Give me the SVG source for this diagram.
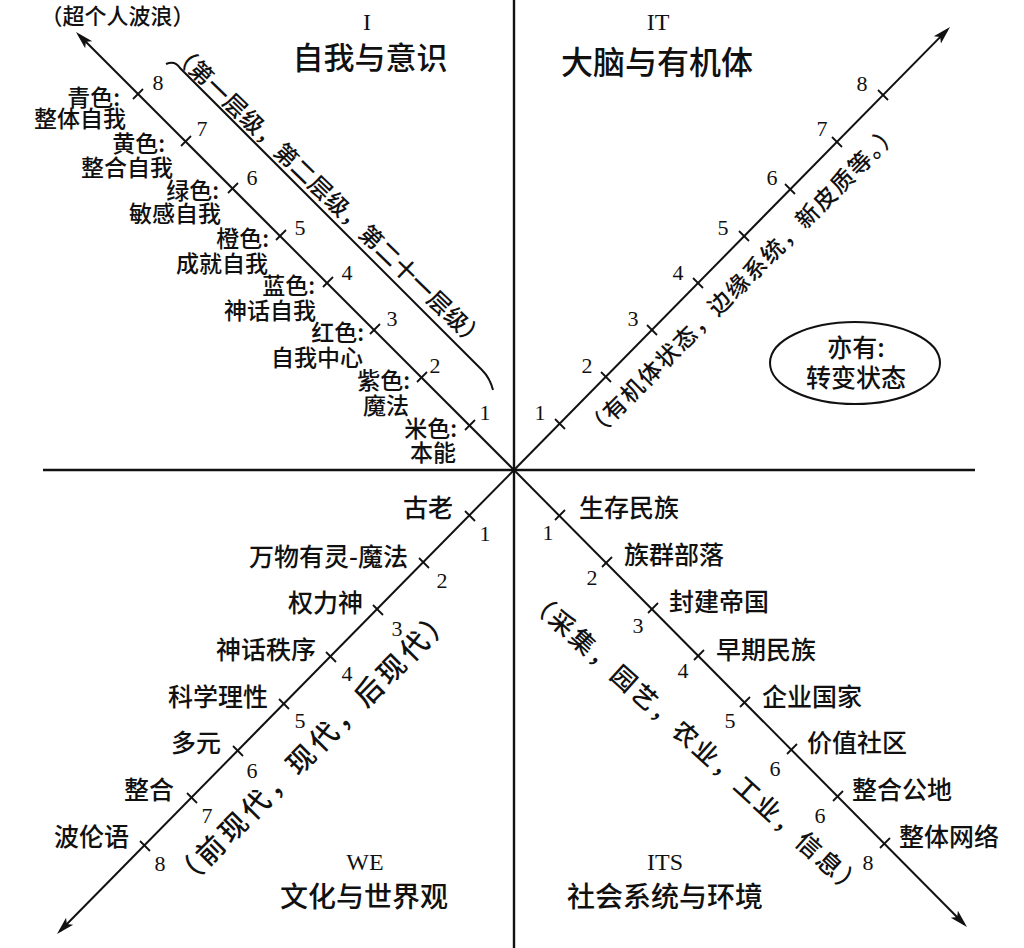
<svg xmlns="http://www.w3.org/2000/svg" width="1024" height="948" viewBox="0 0 1024 948">
<style>
.cjk{font-family:"Noto Sans CJK SC","Noto Sans",sans-serif;fill:#111;font-weight:500}
.lbl{font-size:23px}
.lb2{font-size:25px}
.num{font-family:"Liberation Serif",serif;font-size:22px;fill:#111;text-anchor:middle}
.rom{font-family:"Liberation Serif",serif;font-size:24px;fill:#111;text-anchor:middle}
.ttl{text-anchor:middle}
.end{text-anchor:end}
.axis{stroke:#111;stroke-width:2;fill:none}
.main{stroke:#111;stroke-width:2.4;fill:none}
.tick{stroke:#111;stroke-width:1.8}
.rot{dominant-baseline:central;text-anchor:middle}
</style>
<defs>
<marker id="arr" viewBox="0 0 18 12" refX="14" refY="6" markerWidth="18" markerHeight="12" markerUnits="userSpaceOnUse" orient="auto">
<path d="M0,1 L18,6 L0,11 L4,6 Z" fill="#111"/>
</marker>
</defs>
<rect width="1024" height="948" fill="#fff"/>

<g id="connectors">
<line class="main" x1="514" y1="0" x2="514" y2="948"/>
<line class="main" x1="43" y1="470" x2="975" y2="470"/>
<line class="axis" x1="514" y1="470" x2="78.8" y2="34.8" marker-end="url(#arr)"/>
<line class="axis" x1="514" y1="470" x2="947.2" y2="29.9" marker-end="url(#arr)"/>
<line class="axis" x1="514" y1="470" x2="59.8" y2="931.2" marker-end="url(#arr)"/>
<line class="axis" x1="514" y1="470" x2="964.2" y2="924.2" marker-end="url(#arr)"/>
<path class="axis" d="M166,64 Q175,60 180,68 L482,370 Q490,378 493,390"/>
</g>

<g id="ticks">
<g id="ticks-ul">
<line class="tick" x1="465" y1="430" x2="475" y2="420"/>
<line class="tick" x1="417" y1="382" x2="427" y2="372"/>
<line class="tick" x1="370" y1="334" x2="380" y2="324"/>
<line class="tick" x1="323" y1="287" x2="333" y2="277"/>
<line class="tick" x1="276" y1="240" x2="286" y2="230"/>
<line class="tick" x1="228" y1="193" x2="238" y2="183"/>
<line class="tick" x1="181" y1="146" x2="191" y2="136"/>
<line class="tick" x1="133" y1="99" x2="143" y2="89"/>
</g>
<g id="ticks-ur">
<line class="tick" x1="555" y1="419" x2="565" y2="429"/>
<line class="tick" x1="601" y1="372" x2="611" y2="382"/>
<line class="tick" x1="647" y1="325" x2="657" y2="335"/>
<line class="tick" x1="693" y1="278" x2="703" y2="288"/>
<line class="tick" x1="739" y1="231" x2="749" y2="241"/>
<line class="tick" x1="785" y1="184" x2="795" y2="194"/>
<line class="tick" x1="832" y1="137" x2="842" y2="147"/>
<line class="tick" x1="878" y1="90" x2="888" y2="100"/>
</g>
<g id="ticks-ll">
<line class="tick" x1="465" y1="511" x2="475" y2="521"/>
<line class="tick" x1="419" y1="558" x2="429" y2="568"/>
<line class="tick" x1="373" y1="605" x2="383" y2="615"/>
<line class="tick" x1="326" y1="652" x2="336" y2="662"/>
<line class="tick" x1="279" y1="699" x2="289" y2="709"/>
<line class="tick" x1="233" y1="746" x2="243" y2="756"/>
<line class="tick" x1="187" y1="793" x2="197" y2="803"/>
<line class="tick" x1="140" y1="841" x2="150" y2="851"/>
</g>
<g id="ticks-lr">
<line class="tick" x1="555" y1="520" x2="565" y2="510"/>
<line class="tick" x1="602" y1="567" x2="612" y2="557"/>
<line class="tick" x1="648" y1="613" x2="658" y2="603"/>
<line class="tick" x1="694" y1="660" x2="704" y2="650"/>
<line class="tick" x1="740" y1="707" x2="750" y2="697"/>
<line class="tick" x1="787" y1="754" x2="797" y2="744"/>
<line class="tick" x1="833" y1="801" x2="843" y2="791"/>
<line class="tick" x1="880" y1="848" x2="890" y2="838"/>
</g>
</g>

<g id="quadrant-I">
<text class="rom" x="367" y="30">I</text>
<text class="cjk ttl" x="370" y="68.5" font-size="31">自我与意识</text>
<text class="cjk ttl" x="117.5" y="24" font-size="22">（超个人波浪）</text>
<g id="ul-numbers">
<text class="num" x="158" y="89.5">8</text>
<text class="num" x="202" y="135.5">7</text>
<text class="num" x="252" y="184.5">6</text>
<text class="num" x="300" y="234.5">5</text>
<text class="num" x="347" y="279.5">4</text>
<text class="num" x="392" y="325.5">3</text>
<text class="num" x="435" y="372.5">2</text>
<text class="num" x="485" y="419.5">1</text>
</g>
<g id="ul-labels" class="cjk lbl end">
<text x="120" y="105.5">青色:</text>
<text x="126" y="127">整体自我</text>
<text x="165" y="151.5">黄色:</text>
<text x="173" y="176">整合自我</text>
<text x="219" y="198.5">绿色:</text>
<text x="221" y="222">敏感自我</text>
<text x="269" y="246.5">橙色:</text>
<text x="268" y="272">成就自我</text>
<text x="315" y="293.5">蓝色:</text>
<text x="316" y="319">神话自我</text>
<text x="364" y="340.5">红色:</text>
<text x="363" y="366">自我中心</text>
<text x="410" y="388.5">紫色:</text>
<text x="409" y="414">魔法</text>
<text x="457" y="436.5">米色:</text>
<text x="456" y="461">本能</text>
</g>
<text class="cjk rot" font-size="23" transform="translate(330,195) rotate(44)" textLength="425" lengthAdjust="spacing">（第一层级，第二层级，第二十一层级）</text>
</g>

<g id="quadrant-IT">
<text class="rom" x="658" y="30">IT</text>
<text class="cjk ttl" x="657" y="74" font-size="32">大脑与有机体</text>
<g id="ur-numbers">
<text class="num" x="862" y="90.5">8</text>
<text class="num" x="822" y="135.5">7</text>
<text class="num" x="772" y="184.5">6</text>
<text class="num" x="723" y="234.5">5</text>
<text class="num" x="678" y="279.5">4</text>
<text class="num" x="633" y="325.5">3</text>
<text class="num" x="587" y="372.5">2</text>
<text class="num" x="540" y="419.5">1</text>
</g>
<text class="cjk rot" font-size="23" transform="translate(741,280) rotate(-45)" textLength="432" lengthAdjust="spacing">（有机体状态，边缘系统，新皮质等。）</text>
<g id="state-ellipse">
<ellipse cx="855" cy="363" rx="85" ry="41" fill="none" stroke="#111" stroke-width="2"/>
<text class="cjk ttl" x="856" y="357" font-size="25">亦有:</text>
<text class="cjk ttl" x="856" y="387" font-size="25">转变状态</text>
</g>
</g>

<g id="quadrant-WE">
<text class="rom" x="365" y="870">WE</text>
<text class="cjk ttl" x="364" y="907" font-size="28">文化与世界观</text>
<g id="ll-numbers">
<text class="num" x="485" y="540.5">1</text>
<text class="num" x="442" y="587.5">2</text>
<text class="num" x="397" y="635.5">3</text>
<text class="num" x="347" y="680.5">4</text>
<text class="num" x="300" y="727.5">5</text>
<text class="num" x="252" y="777.5">6</text>
<text class="num" x="207" y="822.5">7</text>
<text class="num" x="160" y="870.5">8</text>
</g>
<g id="ll-labels" class="cjk lb2 end">
<text x="453" y="517">古老</text>
<text x="408" y="566">万物有灵-魔法</text>
<text x="363" y="612">权力神</text>
<text x="316" y="659">神话秩序</text>
<text x="268" y="706">科学理性</text>
<text x="221" y="752">多元</text>
<text x="174" y="799">整合</text>
<text x="129" y="846">波伦语</text>
</g>
<text class="cjk rot" font-size="28" transform="translate(311,747) rotate(-45)" textLength="380" lengthAdjust="spacing">（前现代，现代，后现代）</text>
</g>

<g id="quadrant-ITS">
<text class="rom" x="665" y="870">ITS</text>
<text class="cjk ttl" x="665" y="907" font-size="28">社会系统与环境</text>
<g id="lr-numbers">
<text class="num" x="548" y="539.5">1</text>
<text class="num" x="592" y="584.5">2</text>
<text class="num" x="638" y="632.5">3</text>
<text class="num" x="683" y="677.5">4</text>
<text class="num" x="730" y="727.5">5</text>
<text class="num" x="775" y="775.5">6</text>
<text class="num" x="820" y="822.5">6</text>
<text class="num" x="868" y="869.5">8</text>
</g>
<g id="lr-labels" class="cjk lb2">
<text x="579" y="517">生存民族</text>
<text x="624" y="564">族群部落</text>
<text x="669" y="611">封建帝国</text>
<text x="716" y="659">早期民族</text>
<text x="762" y="706">企业国家</text>
<text x="807" y="752">价值社区</text>
<text x="852" y="799">整合公地</text>
<text x="899" y="846">整体网络</text>
</g>
<text class="cjk rot" font-size="25" transform="translate(697,742) rotate(42)" textLength="440" lengthAdjust="spacing">（采集，园艺，农业，工业，信息）</text>
</g>
</svg>
